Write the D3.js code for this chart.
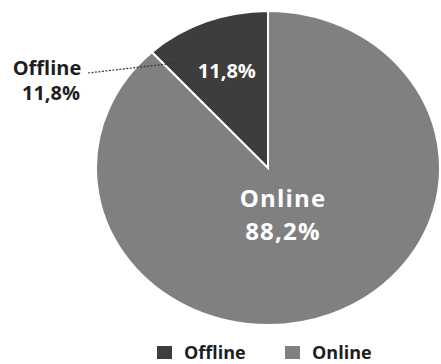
<!DOCTYPE html>
<html>
<head>
<meta charset="utf-8">
<script src="https://cdn.jsdelivr.net/npm/d3@7/dist/d3.min.js"></script>
<style>
  html, body { margin: 0; padding: 0; background: #fff; }
  svg { display: block; font-family: "Open Sans", "DejaVu Sans", sans-serif; }
</style>
</head>
<body>
<svg id="chart" width="441" height="364"></svg>
<script>
// Sales channel shares
const categories = ["Offline", "Online"];
const values = [11.8, 88.2];
const valueLabels = ["11,8%", "88,2%"];
const colors = ["#3d3d3d", "#808080"];

const svg = d3.select("#chart");

// Pie is drawn on a unit circle and stretched into an ellipse
const cx = 268, cy = 168, rx = 172, ry = 157, R = 100;
const offShare = values[0] / d3.sum(values);

const pie = d3.pie()
  .sort(null)
  .value(d => d.value)
  .startAngle(-2 * Math.PI * offShare)
  .endAngle(2 * Math.PI - 2 * Math.PI * offShare);

const data = categories.map((c, i) => ({ name: c, value: values[i], label: valueLabels[i], color: colors[i] }));
const arcs = pie(data);
const arc = d3.arc().innerRadius(0).outerRadius(R);

const g = svg.append("g")
  .attr("transform", `translate(${cx},${cy}) scale(${rx / R},${ry / R})`);

g.selectAll("path")
  .data(arcs)
  .join("path")
  .attr("d", arc)
  .attr("fill", d => d.data.color)
  .attr("stroke", "#fff")
  .attr("stroke-width", 2)
  .attr("vector-effect", "non-scaling-stroke");

// Map a point at (angle, radius fraction) of the pie to screen coordinates
const polar = (a, f) => [cx + Math.sin(a) * rx * f, cy - Math.cos(a) * ry * f];

// Inner label of the small slice
const offArc = arcs[0];
const offMid = (offArc.startAngle + offArc.endAngle) / 2;
const offC = polar(offMid, 0.66);
svg.append("text")
  .attr("x", offC[0]).attr("y", offC[1] + 7)
  .attr("text-anchor", "middle")
  .attr("font-size", 20).attr("font-weight", 700)
  .attr("fill", "#fff")
  .text(offArc.data.label);

// Inner label of the large slice
const onArc = arcs[1];
const onText = svg.append("text")
  .attr("text-anchor", "middle")
  .attr("font-size", 24).attr("font-weight", 700)
  .attr("letter-spacing", 1.2)
  .attr("fill", "#fff");
onText.append("tspan").attr("x", 283).attr("y", 207).text(onArc.data.name);
onText.append("tspan").attr("x", 283).attr("y", 240).text(onArc.data.label);

// Outside label with dashed leader for the small slice
const outText = svg.append("text")
  .attr("text-anchor", "middle")
  .attr("font-size", 20).attr("font-weight", 700)
  .attr("fill", "#1e1e1e");
outText.append("tspan").attr("x", 47).attr("y", 75).text(offArc.data.name);
outText.append("tspan").attr("x", 51).attr("y", 100).text(offArc.data.label);

// Leader ends just inside the slice, near its left edge
const leadEnd = polar(offArc.startAngle + 0.06, 0.86);
svg.append("line")
  .attr("x1", 88).attr("y1", 73)
  .attr("x2", leadEnd[0]).attr("y2", leadEnd[1])
  .attr("stroke", "#333")
  .attr("stroke-width", 1.2)
  .attr("stroke-dasharray", "2,1.5");

// Legend
const legendX = [157, 285];
const item = svg.append("g").selectAll("g")
  .data(data)
  .join("g")
  .attr("transform", (d, i) => `translate(${legendX[i]},346)`);
item.append("rect")
  .attr("width", 15).attr("height", 13)
  .attr("fill", d => d.color);
item.append("text")
  .attr("x", 27).attr("y", 13)
  .attr("font-size", 18).attr("font-weight", 700)
  .attr("fill", "#1e1e1e")
  .text(d => d.name);
</script>
</body>
</html>
